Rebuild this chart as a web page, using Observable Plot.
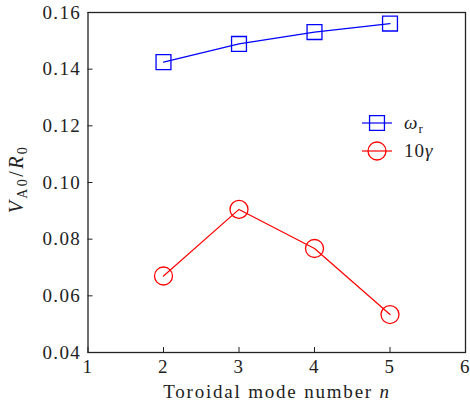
<!DOCTYPE html>
<html>
<head>
<meta charset="utf-8">
<script src="https://cdn.jsdelivr.net/npm/d3@7"></script>
<script src="https://cdn.jsdelivr.net/npm/@observablehq/plot@0.6"></script>
<style>
  body { margin: 0; background: #fff; }
  #chart [aria-label$="tick label"] { letter-spacing: 1.3px; }
</style>
</head>
<body>
<div id="chart"></div>
<script>
// Toroidal mode number n
const modeNumbers = [2, 3, 4, 5];
// Real frequency ω_r and ten times the growth rate γ, in units of V_A0/R_0
const omegaR = [0.1425, 0.1489, 0.1531, 0.1561];
const gamma10 = [0.0670, 0.0905, 0.0767, 0.0534];

const seriesColors = ["#0000ff", "#ff0000"];

const xTicks = [1, 2, 3, 4, 5, 6];
const yTicks = [0.04, 0.06, 0.08, 0.10, 0.12, 0.14, 0.16];

const omegaRows = modeNumbers.map((n, i) => ({n, value: omegaR[i]}));
const gammaRows = modeNumbers.map((n, i) => ({n, value: gamma10[i]}));

const fontFamily = '"Liberation Serif", serif';
const ink = "#222";
const squareR = 8.4;   // symbol radius giving a ~15px square
const circleR = 9;

const chart = Plot.plot({
  width: 470,
  height: 412,
  marginLeft: 87.5,
  marginRight: 5,
  marginTop: 12,
  marginBottom: 60,
  style: {fontFamily, fontSize: "19px", color: ink, background: "#fff", overflow: "visible"},
  x: {domain: [1, 6]},
  y: {domain: [0.04, 0.16]},
  marks: [
    Plot.axisX({ticks: xTicks, tickSize: -5, tickPadding: 12, tickFormat: d => String(d), label: null, stroke: ink}),
    Plot.axisY({ticks: yTicks, tickSize: -5, tickPadding: 12, tickFormat: d3.format(".2f"), label: null, stroke: ink}),
    Plot.line(omegaRows, {x: "n", y: "value", stroke: seriesColors[0], strokeWidth: 1.2}),
    Plot.dot(omegaRows, {x: "n", y: "value", stroke: seriesColors[0], symbol: "square", r: squareR, strokeWidth: 1.3, fill: "none"}),
    Plot.line(gammaRows, {x: "n", y: "value", stroke: seriesColors[1], strokeWidth: 1.2}),
    Plot.dot(gammaRows, {x: "n", y: "value", stroke: seriesColors[1], symbol: "circle", r: circleR, strokeWidth: 1.3, fill: "none"}),
    Plot.frame({stroke: ink, strokeWidth: 1.3})
  ]
});

const svg = d3.select(chart);

// Axis titles with italic symbols and subscripts
const xl = svg.append("text")
  .attr("x", 277).attr("y", 398)
  .attr("text-anchor", "middle")
  .attr("font-size", 19).attr("letter-spacing", "1.8px").attr("fill", ink);
xl.append("tspan").text("Toroidal mode number ");
xl.append("tspan").attr("font-style", "italic").text("n");

const yl = svg.append("text")
  .attr("transform", "translate(23,179) rotate(-90)")
  .attr("text-anchor", "middle")
  .attr("font-size", 20).attr("letter-spacing", "2.4px").attr("fill", ink);
yl.append("tspan").attr("font-style", "italic").text("V");
yl.append("tspan").attr("font-size", 14).attr("dy", 4).text("A0");
yl.append("tspan").attr("dy", -4).text("/");
yl.append("tspan").attr("font-style", "italic").text("R");
yl.append("tspan").attr("font-size", 14).attr("dy", 4).text("0");

// Legend: line sample with symbol, followed by the series name
const legendItems = [
  {color: seriesColors[0], symbol: d3.symbolSquare, size: squareR * squareR * Math.PI, label: [["ω", "it"], ["r", "sub"]]},
  {color: seriesColors[1], symbol: d3.symbolCircle, size: circleR * circleR * Math.PI, label: [["10", null], ["γ", "it"]]}
];
const legend = svg.append("g").attr("transform", "translate(362,123)");
legendItems.forEach((item, i) => {
  const g = legend.append("g").attr("transform", `translate(0,${i * 28})`);
  g.append("line").attr("x1", 0).attr("x2", 30).attr("y1", 0).attr("y2", 0)
    .attr("stroke", item.color).attr("stroke-width", 1.2);
  g.append("path").attr("transform", "translate(15,0)")
    .attr("d", d3.symbol(item.symbol, item.size)())
    .attr("fill", "none").attr("stroke", item.color).attr("stroke-width", 1.3);
  const t = g.append("text").attr("x", 42).attr("y", 6)
    .attr("text-anchor", "start")
    .attr("font-size", 19).attr("letter-spacing", "1px").attr("fill", ink);
  item.label.forEach(([s, kind]) => {
    const sp = t.append("tspan").text(s);
    if (kind === "sub") sp.attr("font-size", 13).attr("dy", 4);
    if (kind === "it") sp.attr("font-style", "italic");
  });
});

document.getElementById("chart").append(chart);
</script>
</body>
</html>
